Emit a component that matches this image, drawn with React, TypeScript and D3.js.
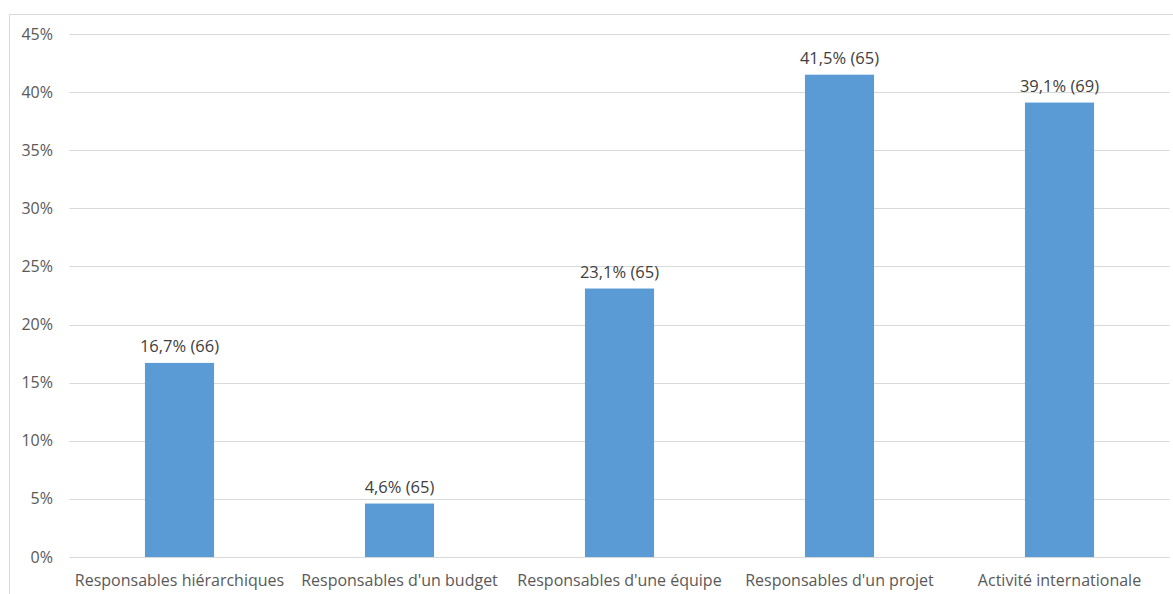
import React from "react";
import * as d3 from "d3";

const categories = [
  "Responsables hiérarchiques",
  "Responsables d'un budget",
  "Responsables d'une équipe",
  "Responsables d'un projet",
  "Activité internationale",
];
const values = [16.7, 4.6, 23.1, 41.5, 39.1];
const counts = [66, 65, 65, 65, 69];
const yTicks = [0, 5, 10, 15, 20, 25, 30, 35, 40, 45];

const W = 1173;
const H = 594;
const FONT = "'Open Sans', 'Noto Sans', sans-serif";

export default function App() {
  const left = 69.5;
  const right = 1169.5;
  const top = 34;
  const bottom = 557;
  const x = d3.scaleBand<string>().domain(categories).range([left, right]).paddingInner(0.686).paddingOuter(0.343);
  const y = d3.scaleLinear().domain([0, 45]).range([bottom, top]);
  const fmt = (v: number) => v.toFixed(1).replace(".", ",");
  return (
    <svg width={W} height={H} style={{ position: "absolute", left: 0, top: 0 }}>
      <rect x={0} y={0} width={W} height={H} fill="#fff" />
      <rect x={9.5} y={14.5} width={1200} height={700} fill="none" stroke="#D9D9D9" />
      {yTicks.map((t) => (
        <g key={t}>
          <line x1={left} x2={right} y1={Math.round(y(t)) + 0.5} y2={Math.round(y(t)) + 0.5} stroke="#D9D9D9" />
          <text x={53} y={y(t) + 5.5} textAnchor="end" fontFamily={FONT} fontSize={16} fill="#595959">
            {t}%
          </text>
        </g>
      ))}
      {categories.map((c, i) => (
        <g key={c}>
          <rect x={x(c)} y={y(values[i])} width={x.bandwidth()} height={bottom - y(values[i])} fill="#5B9BD5" />
          <text
            x={x(c)! + x.bandwidth() / 2}
            y={y(values[i]) - 11}
            textAnchor="middle"
            fontFamily={FONT}
            fontSize={16.5}
            fill="#404040"
          >
            {fmt(values[i])}% ({counts[i]})
          </text>
          <text
            x={x(c)! + x.bandwidth() / 2}
            y={586}
            textAnchor="middle"
            fontFamily={FONT}
            fontSize={16}
            fill="#595959"
          >
            {c}
          </text>
        </g>
      ))}
    </svg>
  );
}
